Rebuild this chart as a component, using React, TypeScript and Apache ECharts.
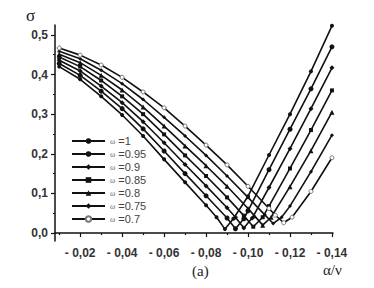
import React, { useEffect, useRef } from 'react';
import * as echarts from 'echarts';

const omegaLabels = ['1', '0.95', '0.9', '0.85', '0.8', '0.75', '0.7'];

const curveW100 = [[0.01,0.420],[0.02,0.388],[0.03,0.345],[0.04,0.298],[0.05,0.245],[0.06,0.186],[0.07,0.128],[0.08,0.070],[0.085,0.040],[0.089,0.010],[0.093,0.036],[0.10,0.093],[0.11,0.197],[0.12,0.300],[0.13,0.408],[0.14,0.523]];
const curveW095 = [[0.01,0.428],[0.02,0.398],[0.03,0.358],[0.04,0.314],[0.05,0.263],[0.06,0.207],[0.07,0.150],[0.08,0.094],[0.09,0.038],[0.094,0.011],[0.098,0.036],[0.10,0.056],[0.11,0.160],[0.12,0.262],[0.13,0.364],[0.14,0.470]];
const curveW090 = [[0.01,0.436],[0.02,0.409],[0.03,0.371],[0.04,0.329],[0.05,0.281],[0.06,0.228],[0.07,0.173],[0.08,0.119],[0.09,0.064],[0.094,0.040],[0.098,0.013],[0.102,0.038],[0.11,0.115],[0.12,0.213],[0.13,0.314],[0.14,0.417]];
const curveW085 = [[0.01,0.444],[0.02,0.420],[0.03,0.385],[0.04,0.345],[0.05,0.300],[0.06,0.249],[0.07,0.196],[0.08,0.144],[0.09,0.090],[0.098,0.044],[0.1025,0.016],[0.107,0.040],[0.11,0.068],[0.12,0.163],[0.13,0.260],[0.14,0.360]];
const curveW080 = [[0.01,0.451],[0.02,0.430],[0.03,0.398],[0.04,0.361],[0.05,0.318],[0.06,0.270],[0.07,0.220],[0.08,0.170],[0.09,0.118],[0.10,0.062],[0.103,0.044],[0.107,0.020],[0.111,0.040],[0.12,0.117],[0.13,0.208],[0.14,0.305]];
const curveW075 = [[0.01,0.459],[0.02,0.440],[0.03,0.411],[0.04,0.377],[0.05,0.337],[0.06,0.292],[0.07,0.245],[0.08,0.196],[0.09,0.144],[0.10,0.090],[0.108,0.046],[0.112,0.024],[0.116,0.040],[0.12,0.068],[0.13,0.155],[0.14,0.247]];
const curveW070 = [[0.01,0.467],[0.02,0.449],[0.03,0.424],[0.04,0.393],[0.05,0.356],[0.06,0.316],[0.07,0.270],[0.08,0.222],[0.09,0.172],[0.10,0.118],[0.11,0.062],[0.113,0.045],[0.117,0.026],[0.121,0.040],[0.13,0.105],[0.14,0.190]];

const curves = [curveW100, curveW095, curveW090, curveW085, curveW080, curveW075, curveW070];

const xMajorTicks = [0.02, 0.04, 0.06, 0.08, 0.10, 0.12, 0.14];
const xMinorTicks = [0.01, 0.03, 0.05, 0.07, 0.09, 0.11, 0.13];
const yMajorTicks = [0, 0.1, 0.2, 0.3, 0.4, 0.5];
const yMinorTicks = [0.05, 0.15, 0.25, 0.35, 0.45];

const symbols = ['circle', 'circle', 'diamond', 'rect', 'triangle', 'diamond', 'circle'];
const symbolSizes = [4, 5, 5, 4, 5, 4, 4];

export default function App() {
  const ref = useRef<HTMLDivElement>(null);
  useEffect(() => {
    if (!ref.current) return;
    const chart = echarts.init(ref.current, null, { renderer: 'svg' });
    const axisFont = { fontFamily: 'Liberation Sans, Arial, sans-serif', fontSize: 12, fontWeight: 'bold' as const, color: '#333' };
    const xCommon = {
      type: 'value' as const,
      min: 0.008,
      max: 0.1405,
      position: 'bottom' as const,
      splitLine: { show: false },
    };
    const yCommon = {
      type: 'value' as const,
      min: -0.02,
      max: 0.525,
      position: 'left' as const,
      splitLine: { show: false },
    };
    chart.setOption({
      animation: false,
      backgroundColor: '#fff',
      grid: { left: 55, top: 25, width: 278, height: 216 },
      xAxis: [
        {
          ...xCommon,
          axisLine: { show: true, lineStyle: { color: '#111', width: 1.5 } },
          axisTick: { show: true, customValues: xMajorTicks, length: 4, lineStyle: { color: '#111', width: 1.2 } },
          axisLabel: { show: true, customValues: xMajorTicks, margin: 6, ...axisFont, formatter: (v: number) => '- ' + v.toFixed(2).replace('.', ',') },
        },
        {
          ...xCommon,
          axisLine: { show: false },
          axisTick: { show: true, customValues: xMinorTicks, length: 2, lineStyle: { color: '#111', width: 1.2 } },
          axisLabel: { show: false },
        },
      ],
      yAxis: [
        {
          ...yCommon,
          axisLine: { show: true, lineStyle: { color: '#111', width: 1.5 } },
          axisTick: { show: true, customValues: yMajorTicks, length: 4, lineStyle: { color: '#111', width: 1.2 } },
          axisLabel: { show: true, customValues: yMajorTicks, margin: 7, ...axisFont, formatter: (v: number) => v.toFixed(1).replace('.', ',') },
        },
        {
          ...yCommon,
          axisLine: { show: false },
          axisTick: { show: true, customValues: yMinorTicks, length: 2, lineStyle: { color: '#111', width: 1.2 } },
          axisLabel: { show: false },
        },
      ],
      legend: {
        orient: 'vertical',
        left: 66,
        top: 130,
        itemWidth: 33,
        itemHeight: 7,
        itemGap: 1,
        data: omegaLabels.map((w) => 'ω =' + w),
        formatter: (name: string) => '{w|ω} ' + name.slice(2),
        textStyle: {
          fontFamily: 'Liberation Sans, Arial, sans-serif',
          fontSize: 11,
          color: '#444',
          lineHeight: 12,
          rich: { w: { fontSize: 8, color: '#666', fontFamily: 'Liberation Serif, serif' } },
        },
      },
      series: curves.map((c, i) => ({
        type: 'line',
        name: 'ω =' + omegaLabels[i],
        data: c,
        xAxisIndex: 0,
        yAxisIndex: 0,
        symbol: symbols[i],
        symbolSize: symbolSizes[i],
        showAllSymbol: true,
        lineStyle: { color: '#111', width: 1.6 },
        itemStyle: i === 6 ? { color: '#fff', borderColor: '#777', borderWidth: 1 } : { color: '#111' },
      })),
      graphic: [
        { type: 'text', left: 26, top: 7, style: { text: 'σ', font: '17px "Liberation Serif", serif', fill: '#222' } },
        { type: 'text', left: 192, top: 263, style: { text: '(a)', font: '15px "Liberation Serif", serif', fill: '#222' } },
        { type: 'text', left: 323, top: 262, style: { text: 'α/ν', font: '15px "Liberation Serif", serif', fill: '#222' } },
      ],
    });
    return () => chart.dispose();
  }, []);
  return <div ref={ref} style={{ position: 'fixed', left: 0, top: 0, width: 374, height: 288 }} />;
}
